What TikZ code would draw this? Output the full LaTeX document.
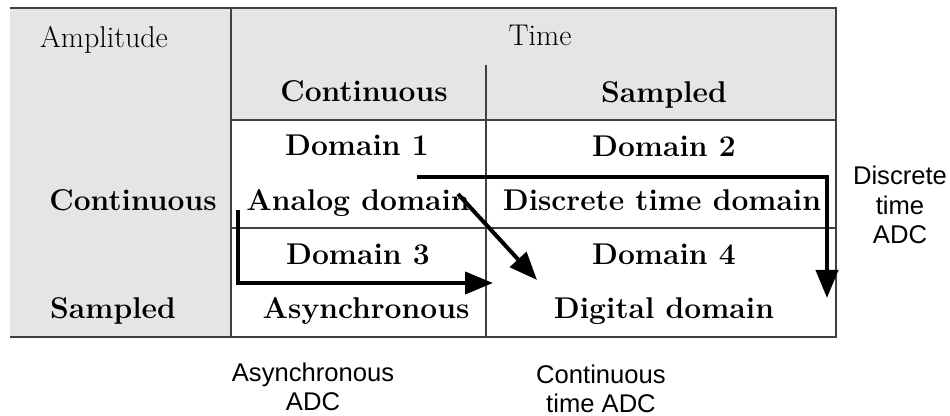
\documentclass[tikz,border=0pt]{standalone}
\usepackage{fontspec}
\newfontfamily\arialfont{Liberation Sans}
\usetikzlibrary{arrows.meta}
\begin{document}
\begin{tikzpicture}[x=0.5pt,y=-0.5pt,
  cell/.style={font=\fontsize{15}{17}\selectfont\bfseries, inner sep=0pt, anchor=base},
  hdr/.style={font=\fontsize{15}{17}\selectfont, inner sep=0pt, anchor=base},
  lbl/.style={font=\arialfont\fontsize{12.8}{14.8}\selectfont, align=center, inner sep=0pt},
  gridline/.style={draw=black!75, line width=0.7pt},
  adc/.style={line width=2pt, -{Triangle[length=14pt,width=11pt]}}]
\useasboundingbox (0,0) rectangle (950,416);
% shading
\fill[gray!20] (10,8) rectangle (836,120);
\fill[gray!20] (10,120) rectangle (231,337);
% grid
\draw[gridline] (10,8) -- (837,8);
\draw[gridline] (10,337) -- (837,337);
\draw[gridline] (836,8) -- (836,337);
\draw[gridline] (231,8) -- (231,337);
\draw[gridline] (486,65) -- (486,337);
\draw[gridline] (231,120) -- (836,120);
\draw[gridline] (231,228) -- (836,228);
% texts
\node[hdr] (amp) at (104,48) {Amplitude};
\node[hdr] (time) at (540,46) {Time};
\node[cell] (hcont) at (364,102) {Continuous};
\node[cell] (hsamp) at (664,103) {Sampled};
\node[cell] (d1) at (357,156) {Domain 1};
\node[cell] (d2) at (664,157) {Domain 2};
\node[cell] (lcont) at (133,211) {Continuous};
\node[cell] (analog) at (358,211) {Analog domain};
\node[cell] (dtd) at (662,211) {Discrete time domain};
\node[cell] (d3) at (358,265) {Domain 3};
\node[cell] (d4) at (664,265) {Domain 4};
\node[cell] (lsamp) at (113,319) {Sampled};
\node[cell] (async) at (366,319) {Asynchronous};
\node[cell] (digital) at (664,319) {Digital domain};
% labels
\node[lbl] (dtadc) at (900,205) {Discrete\\time\\ADC};
\node[lbl] (asadc) at (313,387) {Asynchronous\\ADC};
\node[lbl] (ctadc) at (601,389) {Continuous\\time ADC};
% arrow anchor points
\coordinate (dtS) at (417,177);
\coordinate (dtC) at (827,177);
\coordinate (dtE) at (827,298);
\coordinate (asS) at (238,210);
\coordinate (asC) at (238,283);
\coordinate (asE) at (493,283);
\coordinate (ctS) at (458,194);
\coordinate (ctE) at (537,280);
% arrows
\draw[adc] (dtS) -- (dtC) -- (dtE);
\draw[adc] (asS) -- (asC) -- (asE);
\draw[adc] (ctS) -- (ctE);
\end{tikzpicture}
\end{document}
